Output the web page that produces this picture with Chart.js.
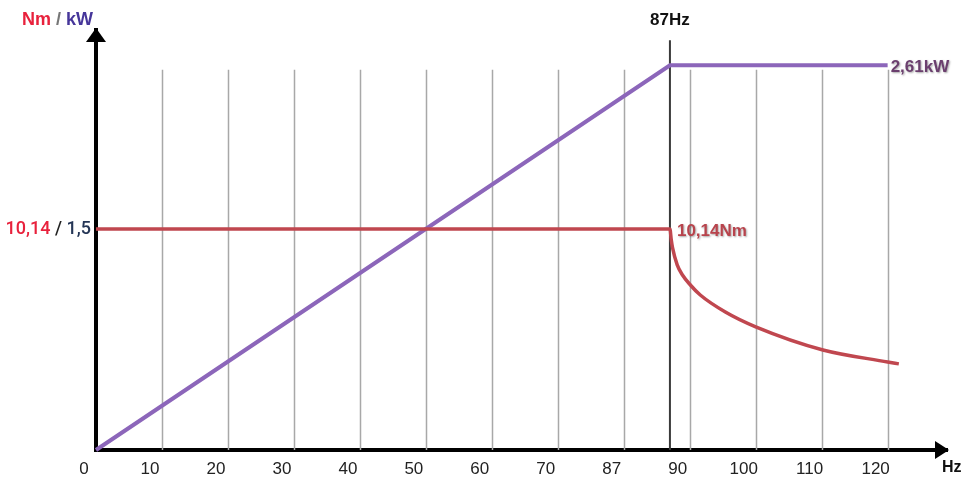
<!DOCTYPE html>
<html>
<head>
<meta charset="utf-8">
<script src="https://cdn.jsdelivr.net/npm/chart.js@4"></script>
<style>
  html, body { margin: 0; padding: 0; background: #fff; }
  #wrap { width: 967px; height: 479px; position: relative; }
</style>
</head>
<body>
<div id="wrap"><canvas id="c"></canvas></div>
<script>
// ---- data ----
const xTickValues = [0, 10, 20, 30, 40, 50, 60, 70, 80, 90, 100, 110, 120];
const xTickLabels = ["0", "10", "20", "30", "40", "50", "60", "70", "87", "90", "100", "110", "120"];
const powerHz = [0, 87, 120];
const powerKW = [0, 2.61, 2.61];
const torqueHz = [0, 87, 87.2, 87.4, 88.1, 88.9, 90.1, 91.6, 95.4, 100, 110.2, 120, 121.7];
const torqueNm = [10.14, 10.14, 9.64, 9.27, 8.49, 8.03, 7.57, 7.11, 6.33, 5.65, 4.59, 4.04, 3.95];
const ratedTorqueNm = 10.14;
const ratedPowerKW = 1.5;
const cornerHz = 87;
const maxPowerKW = 2.61;

const RED = '#c0474f';
const PURPLE = '#8c66ba';

const yMaxKW = 2.85;
const yMaxNm = yMaxKW * ratedTorqueNm / ratedPowerKW;
const FONT = '"Liberation Sans", Arial, sans-serif';

const overlay = {
  id: 'overlay',
  beforeDatasetsDraw(chart) {
    const ctx = chart.ctx, x = chart.scales.x, y = chart.scales.y;
    const top = y.getPixelForValue(2.58), bottom = y.getPixelForValue(0);
    ctx.save();
    ctx.strokeStyle = '#a8a8a8';
    ctx.lineWidth = 1.5;
    xTickValues.forEach(v => {
      if (v === 0) return;
      const px = Math.round(x.getPixelForValue(v)) + 0.5;
      ctx.beginPath(); ctx.moveTo(px, top); ctx.lineTo(px, bottom); ctx.stroke();
    });
    // 87 Hz marker line
    const mx = x.getPixelForValue(cornerHz);
    ctx.strokeStyle = '#3a3a3a';
    ctx.lineWidth = 2;
    ctx.beginPath(); ctx.moveTo(mx, y.getPixelForValue(2.78)); ctx.lineTo(mx, bottom); ctx.stroke();
    ctx.restore();
  },
  afterDraw(chart) {
    const ctx = chart.ctx, x = chart.scales.x, y = chart.scales.y;
    const ox = x.getPixelForValue(0), oy = y.getPixelForValue(0);
    const right = chart.chartArea.right, top = chart.chartArea.top;
    ctx.save();
    ctx.fillStyle = '#000';
    // y arrow
    ctx.beginPath();
    ctx.moveTo(ox, top - 2); ctx.lineTo(ox - 10, top + 12); ctx.lineTo(ox + 10, top + 12); ctx.closePath(); ctx.fill();
    // x arrow
    ctx.beginPath();
    ctx.moveTo(right + 2, oy); ctx.lineTo(right - 12, oy - 9); ctx.lineTo(right - 12, oy + 9); ctx.closePath(); ctx.fill();

    ctx.textBaseline = 'middle';
    // top-left axis title
    ctx.font = 'bold 18px ' + FONT;
    let tx = 22;
    const parts = [['Nm', '#e8213c'], [' / ', '#777'], ['kW', '#46369a']];
    parts.forEach(([t, c]) => { ctx.fillStyle = c; ctx.textAlign = 'left'; ctx.fillText(t, tx, 20); tx += ctx.measureText(t).width; });

    // Hz label
    ctx.fillStyle = '#111';
    ctx.font = 'bold 16px ' + FONT;
    ctx.fillText('Hz', 942, 468);

    // 87Hz label
    ctx.textAlign = 'center';
    ctx.font = 'bold 17px ' + FONT;
    ctx.fillText(cornerHz + 'Hz', x.getPixelForValue(cornerHz), 20);

    // y tick label
    const py = y.getPixelForValue(ratedPowerKW);
    ctx.font = '500 18px Roboto, ' + FONT;
    const segs = [['10,14', '#e8213c'], [' / ', '#222'], ['1,5', '#253656']];
    let w = 0; segs.forEach(s => w += ctx.measureText(s[0]).width);
    let sx = ox - 5 - w;
    ctx.textAlign = 'left';
    segs.forEach(([t, c]) => { ctx.fillStyle = c; ctx.fillText(t, sx, py + 1); sx += ctx.measureText(t).width; });

    // value annotations
    ctx.shadowColor = 'rgba(0,0,0,0.35)';
    ctx.shadowBlur = 2; ctx.shadowOffsetX = 1; ctx.shadowOffsetY = 1;
    ctx.font = 'bold 17px ' + FONT;
    ctx.fillStyle = '#6b3f6e';
    ctx.fillText(String(maxPowerKW).replace('.', ',') + 'kW', x.getPixelForValue(120) + 3, y.getPixelForValue(maxPowerKW) + 2);
    ctx.fillStyle = '#b8434c';
    ctx.fillText(String(ratedTorqueNm).replace('.', ',') + 'Nm', x.getPixelForValue(cornerHz) + 7, py + 2);
    ctx.restore();
  }
};

new Chart(document.getElementById('c'), {
  type: 'line',
  data: {
    datasets: [
      {
        label: 'Torque',
        data: torqueHz.map((h, i) => ({ x: h, y: torqueNm[i] })),
        yAxisID: 'yNm',
        borderColor: RED, borderWidth: 3.5, pointRadius: 0,
        cubicInterpolationMode: 'monotone', clip: false
      },
      {
        label: 'Power',
        data: powerHz.map((h, i) => ({ x: h, y: powerKW[i] })),
        yAxisID: 'y',
        borderColor: PURPLE, borderWidth: 4, pointRadius: 0,
        tension: 0, clip: false
      }
    ]
  },
  options: {
    responsive: true, maintainAspectRatio: false, animation: false,
    layout: { padding: { top: 30, right: 20, left: 0, bottom: 0 } },
    plugins: { legend: { display: false }, tooltip: { enabled: false } },
    scales: {
      x: {
        type: 'linear', min: 0, max: 129,
        afterBuildTicks: s => { s.ticks = xTickValues.map(v => ({ value: v })); },
        afterFit: s => { s.height = 29; },
        grid: { display: false, drawTicks: false },
        border: { display: true, color: '#000', width: 4 },
        ticks: {
          callback: (v, i) => xTickLabels[i],
          labelOffset: -12, padding: 9, maxRotation: 0, autoSkip: false,
          color: '#222', font: { family: FONT, size: 17 }
        }
      },
      y: {
        type: 'linear', position: 'left', min: 0, max: yMaxKW,
        afterFit: s => { s.width = 96; },
        grid: { display: false, drawTicks: false },
        border: { display: true, color: '#000', width: 4 },
        ticks: { display: false }
      },
      yNm: {
        type: 'linear', position: 'right', min: 0, max: yMaxNm,
        display: false
      }
    }
  },
  plugins: [overlay]
});
</script>
</body>
</html>
